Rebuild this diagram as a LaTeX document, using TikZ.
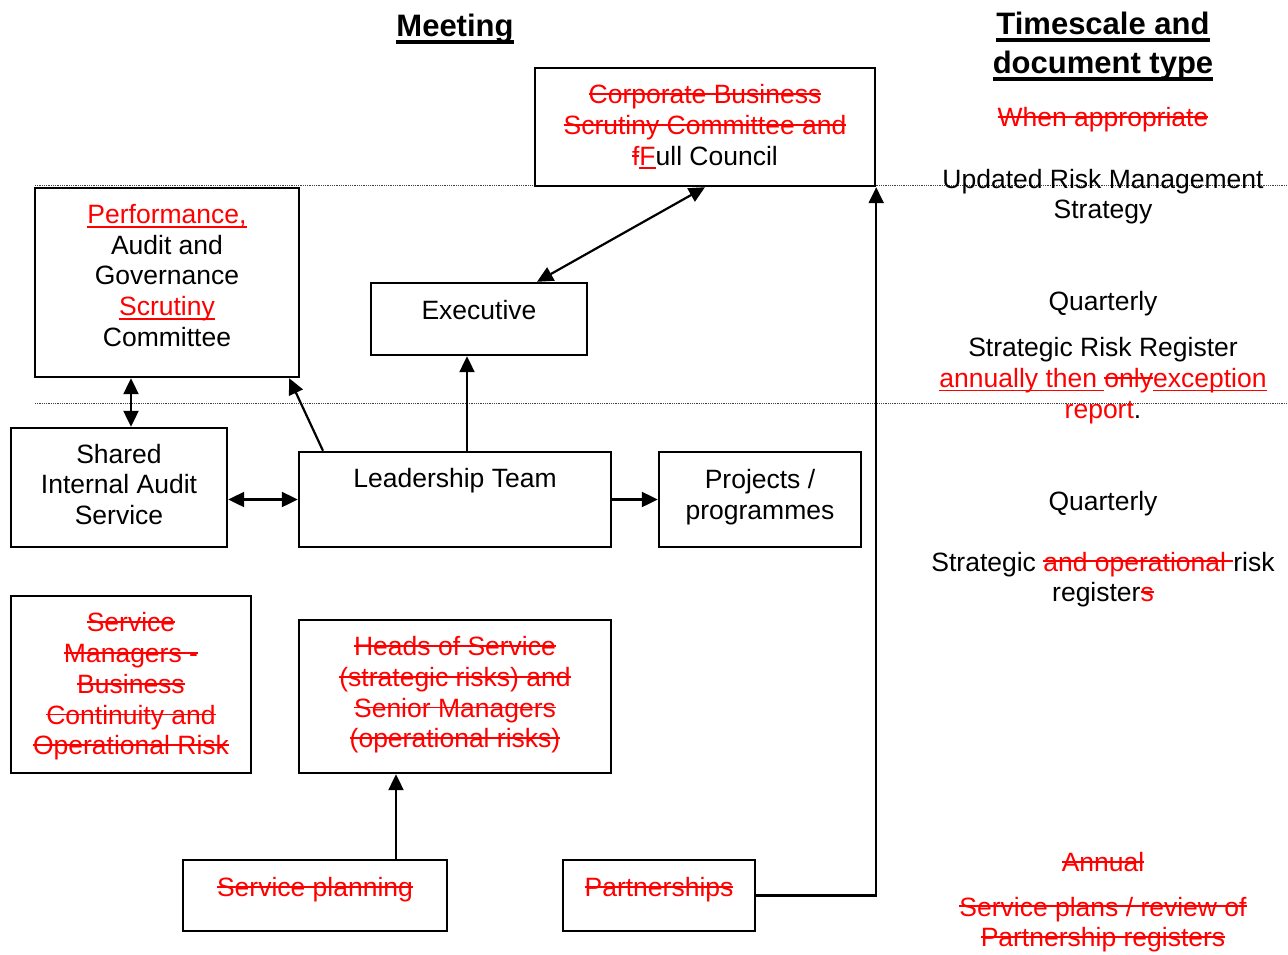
\documentclass[tikz,border=0pt]{standalone}
\usepackage{fontspec}
\setmainfont{Liberation Sans}
\usetikzlibrary{arrows.meta}
\newcommand{\mystrike}[1]{\setbox0\hbox{#1}\rlap{\rule[0.33em]{\wd0}{1.8pt}}\box0}
\newcommand{\myunder}[1]{\setbox0\hbox{#1}\rlap{\rule[-0.15em]{\wd0}{1.8pt}}\box0}
\newcommand{\strk}[1]{\textcolor{red}{\mystrike{#1}}}
\newcommand{\insr}[1]{\textcolor{red}{\myunder{#1}}}
\newcommand{\headul}[1]{\setbox0\hbox{#1}\rlap{\rule[-0.22em]{\wd0}{3.2pt}}\box0}
\tikzset{
  box/.style={draw=black, line width=2.4pt, fill=white, inner sep=0pt},
  txt/.style={font=\fontsize{26.5}{30.7}\selectfont, align=center, inner sep=0pt},
  headtxt/.style={font=\fontsize{31}{39}\selectfont\bfseries, align=center, inner sep=0pt},
  arr/.style={line width=2.2pt, -{Triangle[length=16pt,width=15pt]}},
  dbl/.style={line width=2.2pt, {Triangle[length=16pt,width=15pt]}-{Triangle[length=16pt,width=15pt]}},
  sep/.style={densely dotted, line width=0.8pt, black!75}
}
\begin{document}
\begin{tikzpicture}[x=1pt,y=-1pt]
\fill[white] (0,0) rectangle (1288,954);
\useasboundingbox (0,0) rectangle (1288,954);
% separators
\draw[sep] (35,185) -- (1288,185);
\draw[sep] (35,403) -- (1288,403);
% headings
\node[headtxt] (hmeet) at (455,29) {\headul{Meeting}};
\node[headtxt] (htime) at (1103,46.5) {\headul{Timescale and}\\\headul{document type}};
% boxes
\node[box, minimum width=340pt, minimum height=118pt] (corp) at (705,127) {};
\node[box, minimum width=264pt, minimum height=189pt] (pag) at (167,282.5) {};
\node[box, minimum width=216pt, minimum height=72pt] (exec) at (479,319) {};
\node[box, minimum width=216pt, minimum height=119pt] (shared) at (119,487.5) {};
\node[box, minimum width=312pt, minimum height=95pt] (lt) at (455,499.5) {};
\node[box, minimum width=202pt, minimum height=95pt] (proj) at (760,499.5) {};
\node[box, minimum width=240pt, minimum height=177pt] (sm) at (131,684.5) {};
\node[box, minimum width=312pt, minimum height=153pt] (heads) at (455,696.5) {};
\node[box, minimum width=264pt, minimum height=71pt] (sp) at (315,895.5) {};
\node[box, minimum width=192pt, minimum height=71pt] (part) at (659,895.5) {};
% box texts
\node[txt] (corpt) at (705,127) {\strk{Corporate Business}\\\strk{Scrutiny Committee and}\\\strk{f}\insr{F}ull Council};
\node[txt] (pagt) at (167,275.5) {\insr{Performance,}\\Audit and\\Governance\\\insr{Scrutiny}\\Committee};
\node[txt] (exect) at (479,310) {Executive};
\node[txt] (sharedt) at (119,484.5) {Shared\\Internal Audit\\Service};
\node[txt] (ltt) at (455,481) {Leadership Team};
\node[txt] (projt) at (760,497) {Projects /\\programmes};
\node[txt] (smt) at (131,686.5) {\strk{Service}\\\strk{Managers -}\\\strk{Business}\\\strk{Continuity and}\\\strk{Operational Risk}};
\node[txt] (headst) at (455,695) {\strk{Heads of Service}\\\strk{(strategic risks) and}\\\strk{Senior Managers}\\\strk{(operational risks)}};
\node[txt] (spt) at (315,890) {\strk{Service planning}};
\node[txt] (partt) at (659,890) {\strk{Partnerships}};
% right column
\node[txt] (r1) at (1103,120) {\strk{When appropriate}};
\node[txt] (r2) at (1103,196.5) {Updated Risk Management\\Strategy};
\node[txt] (r3) at (1103,304) {Quarterly};
\node[txt] (r4) at (1103,380.5) {Strategic Risk Register\\\insr{annually then }\strk{only}\insr{exception}\\\textcolor{red}{report}.};
\node[txt] (r5) at (1103,504) {Quarterly};
\node[txt] (r6) at (1103,579.5) {Strategic \strk{and operational }risk\\register\strk{s}};
\node[txt] (r7) at (1103,862) {\strk{Annual}};
\node[txt] (r8) at (1103,924.5) {\strk{Service plans / review of}\\\strk{Partnership registers}};
% connectors
\draw[dbl] ([xshift=58pt]exec.north) -- (corp.south);
\draw[dbl] ([xshift=-36pt]pag.south) -- ([xshift=12pt]shared.north);
\draw[arr] ([xshift=-132pt]lt.north) -- ([xshift=-11pt]pag.south east);
\draw[arr] ([xshift=12pt]lt.north) -- ([xshift=-12pt]exec.south);
\draw[dbl] ([yshift=-12pt]shared.east) -- (lt.west);
\draw[arr] (lt.east) -- (proj.west);
\draw[arr] ([xshift=81pt]sp.north) -- ([xshift=-59pt]heads.south);
\draw[arr] (part.east) -| (corp.south east);
\end{tikzpicture}
\end{document}
